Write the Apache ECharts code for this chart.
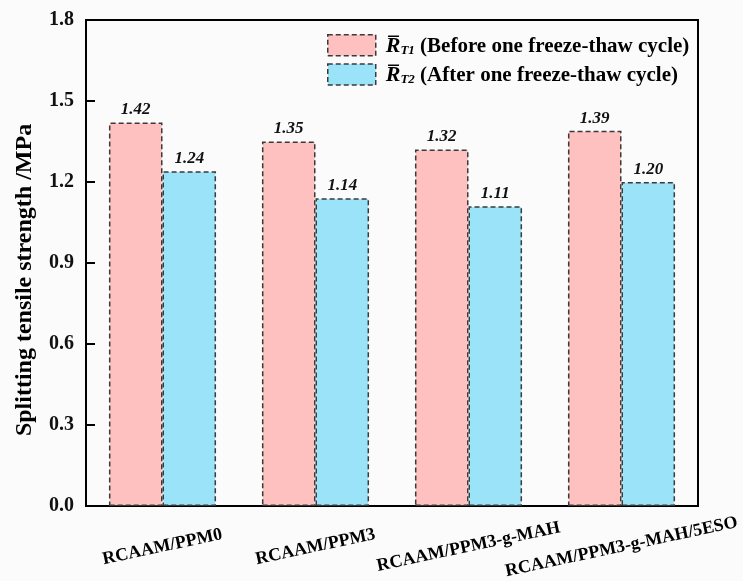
<!DOCTYPE html>
<html>
<head>
<meta charset="utf-8">
<script src="https://cdn.jsdelivr.net/npm/echarts@6/dist/echarts.min.js"></script>
<style>
html,body{margin:0;padding:0;background:#fbfbfb;}
#chart{width:743px;height:581px;}
</style>
</head>
<body>
<div id="chart"></div>
<script>
const categories = ['RCAAM/PPM0', 'RCAAM/PPM3', 'RCAAM/PPM3-g-MAH', 'RCAAM/PPM3-g-MAH/5ESO'];
const beforeValues = [1.42, 1.35, 1.32, 1.39];
const afterValues = [1.24, 1.14, 1.11, 1.20];
const seriesNames = ['RT1', 'RT2'];
const legendTexts = [' (Before one freeze-thaw cycle)', ' (After one freeze-thaw cycle)'];
const yAxisTitle = 'Splitting tensile strength /MPa';

const FONT = '"Liberation Serif", "Times New Roman", serif';
const chart = echarts.init(document.getElementById('chart'), null, {renderer: 'canvas'});

const barBorder = {borderColor: '#3a3a3a', borderWidth: 1.5, borderType: [5, 3]};

const option = {
  backgroundColor: '#fbfbfb',
  animation: false,
  grid: {left: 86, right: 45, top: 20, bottom: 67, show: true, borderColor: '#000', borderWidth: 2, backgroundColor: 'transparent'},
  legend: {
    orient: 'vertical',
    left: 322, top: 29,
    itemWidth: 48, itemHeight: 21, itemGap: 6,
    icon: 'rect',
    itemStyle: {borderColor: '#3a3a3a', borderWidth: 1.5, borderType: [5, 3]},
    data: seriesNames,
    formatter: function (name) {
      const i = seriesNames.indexOf(name);
      const sub = i === 0 ? 'T1' : 'T2';
      return '{r|R\u0305}{s|' + sub + '}{t|' + legendTexts[i] + '}';
    },
    textStyle: {
      fontFamily: FONT, color: '#000',
      rich: {
        r: {fontFamily: FONT, fontSize: 22, fontWeight: 'bold', fontStyle: 'italic', color: '#000', padding: [0, 0, 0, 5], lineHeight: 24, verticalAlign: 'bottom'},
        s: {fontFamily: FONT, fontSize: 13, fontWeight: 'bold', fontStyle: 'italic', color: '#000', lineHeight: 22, verticalAlign: 'bottom'},
        t: {fontFamily: FONT, fontSize: 21, fontWeight: 'bold', color: '#000', lineHeight: 24, verticalAlign: 'bottom'}
      }
    }
  },
  xAxis: {
    type: 'category',
    data: categories,
    axisLine: {lineStyle: {color: '#000', width: 2}},
    axisTick: {show: false},
    axisLabel: {
      rotate: 12, align: 'center', verticalAlign: 'middle', margin: 41,
      fontFamily: FONT, fontSize: 18, fontWeight: 'bold', color: '#000',
      interval: 0
    }
  },
  yAxis: {
    type: 'value',
    min: 0, max: 1.8, interval: 0.3,
    name: yAxisTitle,
    nameLocation: 'middle',
    nameRotate: 90,
    nameGap: 49,
    nameTextStyle: {fontFamily: FONT, fontSize: 24, fontWeight: 'bold', color: '#000', padding: [0, 34, 0, 0]},
    axisLine: {show: true, lineStyle: {color: '#000', width: 2}},
    axisTick: {show: true, inside: true, length: 9, lineStyle: {color: '#000', width: 2}},
    splitLine: {show: false},
    axisLabel: {
      margin: 12,
      fontFamily: FONT, fontSize: 20, fontWeight: 'bold', color: '#111',
      formatter: function (v) { return v.toFixed(1); }
    }
  },
  series: [
    {
      name: seriesNames[0], type: 'bar', data: beforeValues,
      barGap: '0%', barCategoryGap: '30%',
      itemStyle: Object.assign({color: '#ffc0c0'}, barBorder),
      label: {show: true, position: 'top', distance: 4, fontFamily: FONT, fontSize: 17, fontWeight: 'bold', fontStyle: 'italic', color: '#111',
        formatter: function (p) { return p.value.toFixed(2); }}
    },
    {
      name: seriesNames[1], type: 'bar', data: afterValues,
      barGap: '0%', barCategoryGap: '30%',
      itemStyle: Object.assign({color: '#9be3f9'}, barBorder),
      label: {show: true, position: 'top', distance: 4, fontFamily: FONT, fontSize: 17, fontWeight: 'bold', fontStyle: 'italic', color: '#111',
        formatter: function (p) { return p.value.toFixed(2); }}
    }
  ]
};
chart.setOption(option);
</script>
</body>
</html>
